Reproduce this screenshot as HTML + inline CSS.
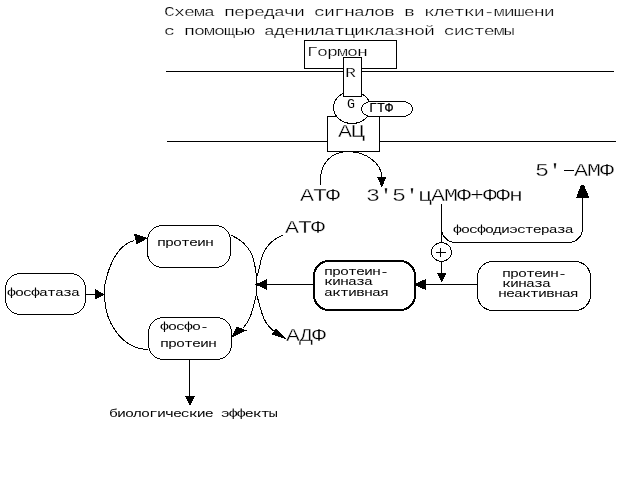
<!DOCTYPE html>
<html><head><meta charset="utf-8"><style>
html,body{margin:0;padding:0;background:#fff;width:640px;height:477px;overflow:hidden}
svg{display:block;filter:grayscale(1)}
text{font-family:"Liberation Mono",monospace;fill:#000}
</style></head><body>
<svg width="640" height="477" viewBox="0 0 640 477" stroke="#000" shape-rendering="crispEdges">
<g stroke="#000">
<text transform="translate(164.00,16.00) scale(1,0.745)" font-size="18.333" stroke="#fff" stroke-width="0.3" letter-spacing="-1">Схема передачи сигналов в клетки-мишени</text>
<text transform="translate(164.00,35.00) scale(1,0.745)" font-size="18.333" stroke="#fff" stroke-width="0.3" letter-spacing="-1">с помощью аденилатциклазной системы</text>
<path d="M166,71.5 H614" stroke-width="1" fill="none"/>
<path d="M167,141.5 H616" stroke-width="1" fill="none"/>
<rect x="327.50" y="116.50" width="52.00" height="35.00" rx="0" fill="#fff" stroke-width="1"/>
<text transform="translate(338.00,137.00) scale(1,0.780)" font-size="23.333" stroke="#fff" stroke-width="0.4" letter-spacing="-1">АЦ</text>
<ellipse cx="352.00" cy="107.50" rx="18.50" ry="16.00" fill="#fff" stroke-width="1"/>
<text transform="translate(347.00,108.00) scale(1,0.900)" font-size="13.333" stroke="none">G</text>
<rect x="361.5" y="101.5" width="51" height="15" rx="10" ry="7.5" fill="#fff" stroke-width="1"/>
<text transform="translate(369.00,111.50) scale(1,0.900)" font-size="13.333" stroke="#000" stroke-width="0.2">ГТФ</text>
<rect x="304.50" y="40.50" width="92.00" height="28.00" rx="0" fill="#fff" stroke-width="1"/>
<text transform="translate(307.00,56.00) scale(1,0.745)" font-size="18.333" stroke="#fff" stroke-width="0.3" letter-spacing="-1">Гормон</text>
<rect x="343.50" y="57.50" width="18.00" height="39.00" rx="0" fill="#fff" stroke-width="1"/>
<text transform="translate(345.00,77.00) scale(1,0.745)" font-size="18.333" stroke="#fff" stroke-width="0.3" letter-spacing="-1">R</text>
<path d="M320.50,185.50 C316.57,136.10 381.47,147.09 382.00,178.00" stroke-width="1" fill="none"/>
<polygon points="377.00,177.00 386.50,177.00 381.80,187.50" stroke="none" fill="#000"/>
<text transform="translate(300.00,201.00) scale(1,0.780)" font-size="23.333" stroke="#fff" stroke-width="0.4" letter-spacing="-1">АТФ</text>
<text transform="translate(366.00,201.00) scale(1,0.780)" font-size="23.333" stroke="#fff" stroke-width="0.4" letter-spacing="-1">3'5'цАМФ+ФФн</text>
<text transform="translate(535.00,176.00) scale(1,0.780)" font-size="23.333" stroke="#fff" stroke-width="0.4" letter-spacing="-1">5' АМФ</text>
<path d="M564,170.5 H574" stroke-width="1" fill="none"/>
<path d="M441.5,204 V273" stroke-width="1" fill="none"/>
<path d="M441.5,228.5 A14,14 0 0 0 455.5,242.5 H568.5 A14,14 0 0 0 582.5,228.5 V197" stroke-width="1" fill="none"/>
<polygon points="576.00,198.00 589.50,198.00 584.00,185.00 581.00,185.00" stroke="none" fill="#000"/>
<text transform="translate(453.00,233.00) scale(1,0.720)" font-size="15.000" stroke="none" letter-spacing="-1">фосфодиэстераза</text>
<ellipse cx="441.50" cy="252.00" rx="10.00" ry="9.50" fill="#fff" stroke-width="1"/>
<path d="M436,252.5 H446" stroke-width="1" fill="none"/>
<path d="M440.5,248 V257" stroke-width="1" fill="none"/>
<polygon points="437.00,273.00 446.50,273.00 441.80,283.00" stroke="none" fill="#000"/>
<path d="M424,284.5 H478" stroke-width="1" fill="none"/>
<polygon points="414.00,284.50 426.00,278.80 426.00,290.20" stroke="none" fill="#000"/>
<rect x="314.00" y="261.00" width="101.00" height="49.00" rx="15" fill="#fff" stroke-width="2"/>
<text transform="translate(324.00,275.00) scale(1,0.720)" font-size="15.000" stroke="none" letter-spacing="-1">протеин-</text>
<text transform="translate(324.00,285.00) scale(1,0.720)" font-size="15.000" stroke="none" letter-spacing="-1">киназа</text>
<text transform="translate(324.00,295.50) scale(1,0.720)" font-size="15.000" stroke="none" letter-spacing="-1">активная</text>
<rect x="477.50" y="261.50" width="113.00" height="49.00" rx="15.5" fill="#fff" stroke-width="1"/>
<text transform="translate(502.00,277.00) scale(1,0.720)" font-size="15.000" stroke="none" letter-spacing="-1">протеин-</text>
<text transform="translate(502.00,287.00) scale(1,0.720)" font-size="15.000" stroke="none" letter-spacing="-1">киназа</text>
<text transform="translate(498.00,296.50) scale(1,0.720)" font-size="15.000" stroke="none" letter-spacing="-1">неактивная</text>
<path d="M265,284.5 H313" stroke-width="1" fill="none"/>
<polygon points="255.30,284.50 267.00,279.00 267.00,290.00" stroke="none" fill="#000"/>
<rect x="147.50" y="225.50" width="83.00" height="42.00" rx="15" fill="#fff" stroke-width="1"/>
<text transform="translate(157.00,246.00) scale(1,0.720)" font-size="15.000" stroke="none" letter-spacing="-1">протеин</text>
<rect x="148.50" y="317.50" width="83.00" height="42.00" rx="15" fill="#fff" stroke-width="1"/>
<text transform="translate(160.00,330.00) scale(1,0.720)" font-size="15.000" stroke="none" letter-spacing="-1">фосфо-</text>
<text transform="translate(160.00,347.00) scale(1,0.720)" font-size="15.000" stroke="none" letter-spacing="-1">протеин</text>
<rect x="5.50" y="273.50" width="80.00" height="41.00" rx="15" fill="#fff" stroke-width="1"/>
<text transform="translate(7.00,296.00) scale(1,0.720)" font-size="15.000" stroke="none" letter-spacing="-1">фосфатаза</text>
<path d="M86,294.5 H96" stroke-width="1" fill="none"/>
<polygon points="95.00,289.00 104.80,294.50 95.00,299.50" stroke="none" fill="#000"/>
<path d="M134.50,240.50 C117.83,244.32 108.49,265.25 104.50,286.50 C104.50,289.17 104.50,291.83 104.50,294.50 C104.24,322.57 122.07,349.09 148.50,349.50" stroke-width="1" fill="none"/>
<polygon points="148.00,238.00 134.00,233.50 136.50,244.50" stroke="none" fill="#000"/>
<path d="M230.50,234.90 C253.09,244.87 254.52,260.20 256.50,276.50 C256.50,282.50 256.50,288.50 256.50,294.50 C252.60,308.85 251.62,318.71 243.00,328.00" stroke-width="1" fill="none"/>
<path d="M283.50,234.80 C256.73,245.44 261.72,269.35 256.50,276.50 C256.50,282.50 256.50,288.50 256.50,294.50 C261.49,309.43 261.27,320.78 273.50,330.80" stroke-width="1" fill="none"/>
<polygon points="230.80,337.80 237.00,326.50 246.50,330.50" stroke="none" fill="#000"/>
<polygon points="286.60,339.20 275.60,328.60 271.80,334.60" stroke="none" fill="#000"/>
<text transform="translate(285.00,233.00) scale(1,0.780)" font-size="23.333" stroke="#fff" stroke-width="0.4" letter-spacing="-1">АТФ</text>
<text transform="translate(286.00,341.00) scale(1,0.780)" font-size="23.333" stroke="#fff" stroke-width="0.4" letter-spacing="-1">АДФ</text>
<path d="M189.5,359 V397" stroke-width="1" fill="none"/>
<polygon points="185.00,396.00 195.00,396.00 189.80,406.00" stroke="none" fill="#000"/>
<text transform="translate(109.00,417.00) scale(1,0.720)" font-size="15.000" stroke="none" letter-spacing="-1">биологические эффекты</text>
</g>
</svg>
</body></html>
